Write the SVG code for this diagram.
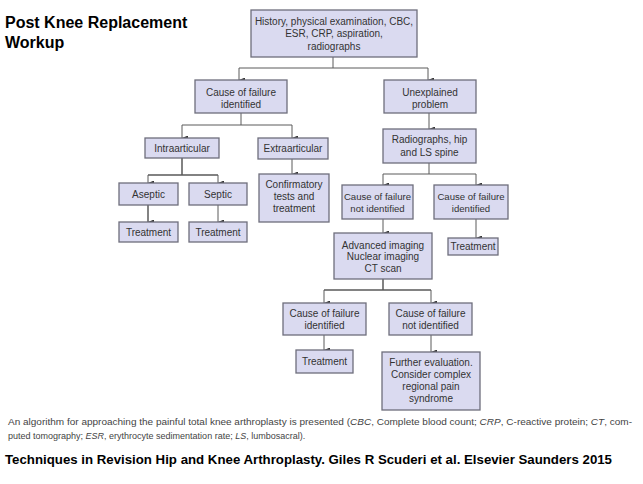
<svg xmlns="http://www.w3.org/2000/svg" width="643" height="484" viewBox="0 0 643 484">
<style>
.bx{fill:#dadaf0;stroke:#6e6e7c;stroke-width:1.3}
.t{font-family:"Liberation Sans",Arial,sans-serif;font-size:10px;fill:#333;text-anchor:middle}
.s{font-size:9.6px}
.c{fill:none;stroke:#5a5a5a;stroke-width:1}
.ttl{font-family:"Liberation Sans",Arial,sans-serif;font-weight:bold;font-size:16px;fill:#000}
.cap{font-family:"Liberation Sans",Arial,sans-serif;font-size:9px;fill:#444}
.ref{font-family:"Liberation Sans",Arial,sans-serif;font-weight:bold;font-size:13px;fill:#000}
</style>
<defs>
<marker id="ah" markerWidth="5" markerHeight="6" refX="2.5" refY="6" orient="auto-start-reverse" markerUnits="userSpaceOnUse" viewBox="0 0 5 6">
<path d="M0,0 L5,0 L2.5,6 Z" fill="#333"/>
</marker>
</defs>
<rect width="643" height="484" fill="#fff"/>
<text class="ttl" x="5" y="28">Post Knee Replacement</text>
<text class="ttl" x="5" y="48">Workup</text>

<g id="connectors">
<path class="c" d="M333 57V68M239 68H428"/>
<path class="c" d="M239 68V80" marker-end="url(#ah)"/>
<path class="c" d="M428 68V80" marker-end="url(#ah)"/>
<path class="c" d="M241 113V125M182 125H292"/>
<path class="c" d="M182 125V138" marker-end="url(#ah)"/>
<path class="c" d="M292 125V138" marker-end="url(#ah)"/>
<path class="c" d="M292 159V174" marker-end="url(#ah)"/>
<path class="c" d="M182 158V175M148 175H218" style="stroke-width:1.5"/>
<path class="c" d="M148 175V183" marker-end="url(#ah)"/>
<path class="c" d="M218 175V183" marker-end="url(#ah)"/>
<path class="c" d="M148 205V222" marker-end="url(#ah)" style="stroke-width:1.5"/>
<path class="c" d="M218 205V222" marker-end="url(#ah)"/>
<path class="c" d="M429 113V129" marker-end="url(#ah)"/>
<path class="c" d="M429 163V174M383 174H476"/>
<path class="c" d="M383 174V185" marker-end="url(#ah)"/>
<path class="c" d="M476 174V185" marker-end="url(#ah)"/>
<path class="c" d="M383 219V233" marker-end="url(#ah)"/>
<path class="c" d="M476 219V238" marker-end="url(#ah)"/>
<path class="c" d="M383 279V290M324 290H431" style="stroke-width:1.5"/>
<path class="c" d="M324 290V303" marker-end="url(#ah)"/>
<path class="c" d="M431 290V303" marker-end="url(#ah)"/>
<path class="c" d="M324 335V350" marker-end="url(#ah)"/>
<path class="c" d="M431 335V352" marker-end="url(#ah)"/>
</g>

<g id="history">
<rect class="bx" x="251" y="10" width="166" height="47"/>
<text class="t" x="334" y="25">History, physical examination, CBC,</text>
<text class="t" x="334" y="37">ESR, CRP, aspiration,</text>
<text class="t" x="334" y="50">radiographs</text>
</g>
<g id="cause1">
<rect class="bx" x="195" y="80" width="92" height="33"/>
<text class="t" x="241" y="96">Cause of failure</text>
<text class="t" x="241" y="108">identified</text>
</g>
<g id="unexplained">
<rect class="bx" x="384" y="80" width="92" height="33"/>
<text class="t" x="430" y="96">Unexplained</text>
<text class="t" x="430" y="108">problem</text>
</g>
<g id="intra">
<rect class="bx" x="145" y="138" width="74" height="20"/>
<text class="t" x="182" y="152">Intraarticular</text>
</g>
<g id="extra">
<rect class="bx" x="258" y="138" width="70" height="21"/>
<text class="t" x="293" y="152">Extraarticular</text>
</g>
<g id="confirm">
<rect class="bx" x="259" y="174" width="70" height="48"/>
<text class="t" x="294" y="188">Confirmatory</text>
<text class="t" x="294" y="200">tests and</text>
<text class="t" x="294" y="212">treatment</text>
</g>
<g id="aseptic">
<rect class="bx" x="119" y="183" width="59" height="22"/>
<text class="t" x="148.5" y="197.5">Aseptic</text>
</g>
<g id="septic">
<rect class="bx" x="189" y="183" width="58" height="22"/>
<text class="t" x="218" y="197.5">Septic</text>
</g>
<g id="treat1">
<rect class="bx" x="119" y="222" width="59" height="20"/>
<text class="t" x="148.5" y="235.5">Treatment</text>
</g>
<g id="treat2">
<rect class="bx" x="189" y="222" width="58" height="20"/>
<text class="t" x="218" y="235.5">Treatment</text>
</g>
<g id="radiographs">
<rect class="bx" x="383" y="129" width="93" height="34"/>
<text class="t" x="429.5" y="143">Radiographs, hip</text>
<text class="t" x="429.5" y="156">and LS spine</text>
</g>
<g id="notid1">
<rect class="bx" x="342" y="185" width="71" height="34"/>
<text class="t s" x="377.5" y="200">Cause of failure</text>
<text class="t s" x="377.5" y="212">not identified</text>
</g>
<g id="id2">
<rect class="bx" x="434" y="185" width="74" height="34"/>
<text class="t s" x="471" y="200">Cause of failure</text>
<text class="t s" x="471" y="212">identified</text>
</g>
<g id="treat3">
<rect class="bx" x="448" y="238" width="50" height="17"/>
<text class="t" x="473" y="250">Treatment</text>
</g>
<g id="advanced">
<rect class="bx" x="334" y="233" width="98" height="46"/>
<text class="t" x="383" y="248.5">Advanced imaging</text>
<text class="t" x="383" y="260">Nuclear imaging</text>
<text class="t" x="383" y="271.5">CT scan</text>
</g>
<g id="id3">
<rect class="bx" x="283" y="303" width="83" height="32"/>
<text class="t" x="324.5" y="316.5">Cause of failure</text>
<text class="t" x="324.5" y="328.5">identified</text>
</g>
<g id="notid2">
<rect class="bx" x="389" y="303" width="83" height="32"/>
<text class="t" x="430.5" y="316.5">Cause of failure</text>
<text class="t" x="430.5" y="328.5">not identified</text>
</g>
<g id="treat4">
<rect class="bx" x="296" y="350" width="57" height="23"/>
<text class="t" x="324.5" y="365">Treatment</text>
</g>
<g id="further">
<rect class="bx" x="382" y="352" width="98" height="58"/>
<text class="t" x="431" y="365.5">Further evaluation.</text>
<text class="t" x="431" y="377.5">Consider complex</text>
<text class="t" x="431" y="389.5">regional pain</text>
<text class="t" x="431" y="401.5">syndrome</text>
</g>

<text class="cap" x="8" y="425" textLength="624" lengthAdjust="spacingAndGlyphs">An algorithm for approaching the painful total knee arthroplasty is presented (<tspan font-style="italic">CBC</tspan>, Complete blood count; <tspan font-style="italic">CRP</tspan>, C-reactive protein; <tspan font-style="italic">CT</tspan>, com-</text>
<text class="cap" x="8" y="439">puted tomography; <tspan font-style="italic">ESR</tspan>, erythrocyte sedimentation rate; <tspan font-style="italic">LS</tspan>, lumbosacral).</text>
<text class="ref" x="5" y="464" textLength="607" lengthAdjust="spacingAndGlyphs">Techniques in Revision Hip and Knee Arthroplasty. Giles R Scuderi et al. Elsevier Saunders 2015</text>
</svg>
